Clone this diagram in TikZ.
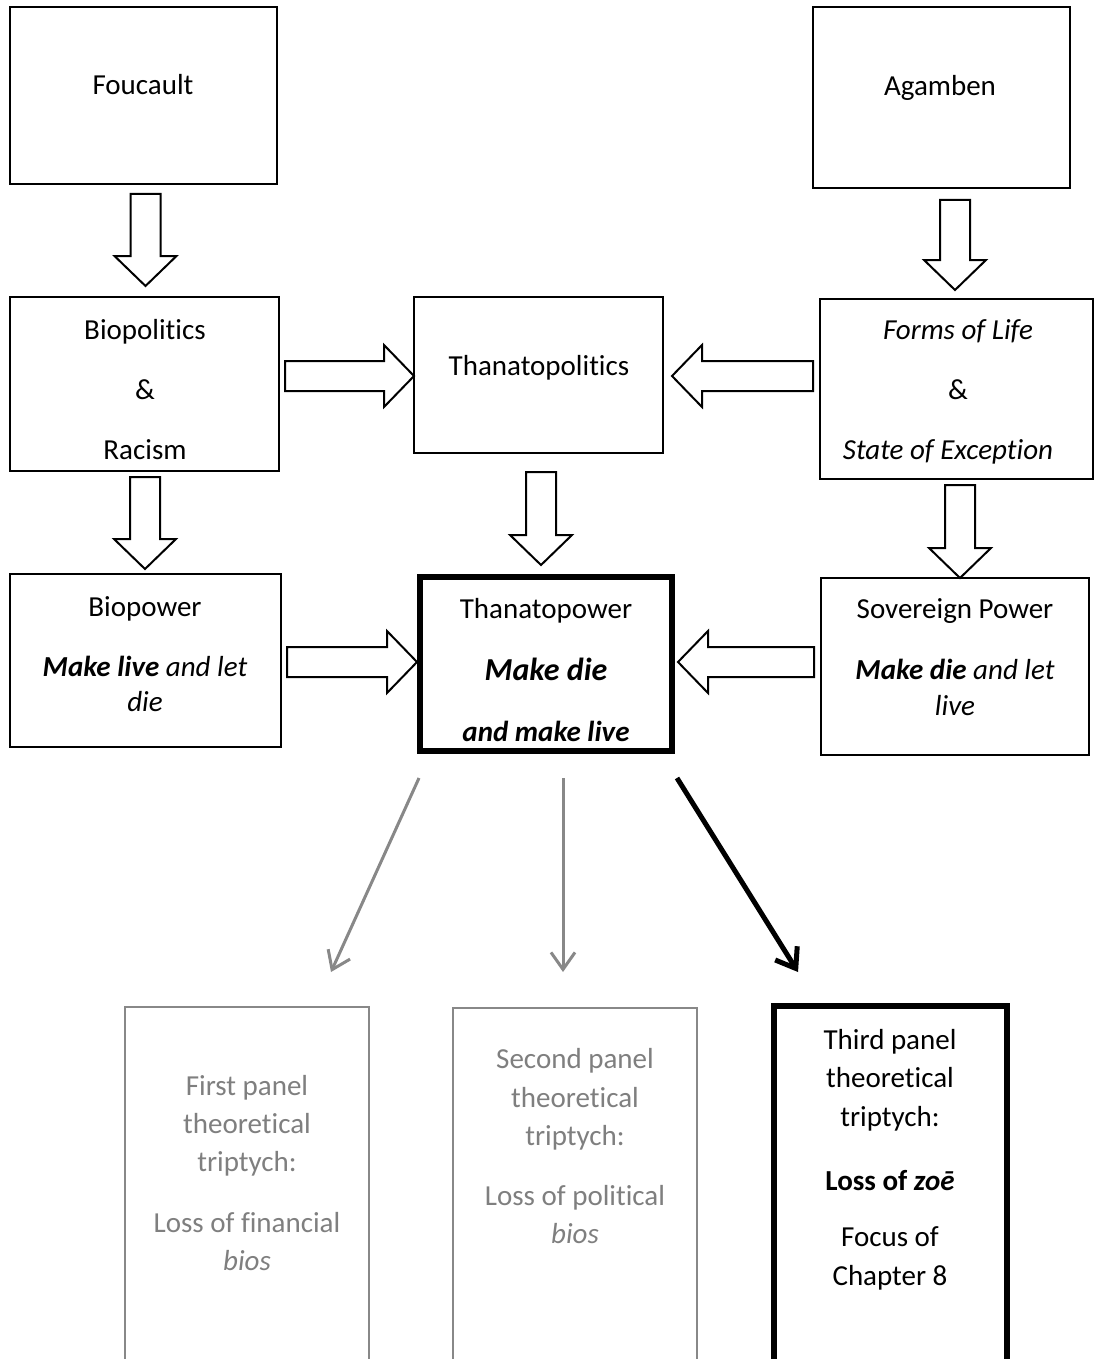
\documentclass[tikz,border=0pt]{standalone}
\usepackage{fontspec}
\setmainfont{Carlito}[Ligatures=NoCommon]
\usetikzlibrary{calc,arrows.meta}

\definecolor{gline}{RGB}{136,136,136}
\definecolor{gtext}{RGB}{127,127,127}

% hollow block arrow from tail coordinate #1 to tip coordinate #2
\newcommand\blockarr[2]{%
  \draw[blockarrow] let \p1=($(#2)-(#1)$), \n1={atan2(\y1,\x1)}, \n2={veclen(\x1,\y1)} in
    [shift={(#1)}, rotate=\n1]
    (0pt,-15pt) -- (\n2-30pt,-15pt) -- (\n2-30pt,-31pt) -- (\n2,0pt)
    -- (\n2-30pt,31pt) -- (\n2-30pt,15pt) -- (0pt,15pt) -- cycle;}

\tikzset{
  box/.style={draw=black, line width=2pt, fill=white, inner sep=0pt},
  thickbox/.style={draw=black, line width=5.5pt, fill=white, inner sep=0pt},
  greybox/.style={draw=gline, line width=2.5pt, fill=white, inner sep=0pt},
  blockarrow/.style={draw=black, line width=2pt, fill=white, line join=miter},
  txt/.style={anchor=base, inner sep=0pt, font=\fontsize{29}{35}\selectfont},
  gtxt/.style={txt, text=gtext},
  greyarrow/.style={draw=gline, line width=3pt, -{Straight Barb[length=17pt,width=24pt,line width=3pt]}},
  blackarrow/.style={draw=black, line width=5pt, -{Straight Barb[length=18pt,width=26pt,line width=5pt]}},
}

\begin{document}
\begin{tikzpicture}[x=1pt,y=-1pt]
\useasboundingbox (0,0) rectangle (1096,1359);
\clip (0,0) rectangle (1096,1359);
\fill[white] (0,0) rectangle (1096,1359);

% ---- top row
\node[box, minimum width=267pt, minimum height=177pt] (fou) at (143.5,95.5) {};
\node[box, minimum width=257pt, minimum height=181pt] (aga) at (941.5,97.5) {};
\node[txt] (foutxt) at (143,95) {Foucault};
\node[txt] (agatxt) at (940,96) {Agamben};

% ---- middle row
\node[box, minimum width=269pt, minimum height=174pt] (bip) at (144.5,384) {};
\node[box, minimum width=249pt, minimum height=156pt] (thp) at (538.5,375) {};
\node[box, minimum width=273pt, minimum height=180pt] (fol) at (956.5,388.5) {};
\node[txt] at (145,339) {Biopolitics};
\node[txt] at (145,399) {\&};
\node[txt] at (145,459) {Racism};
\node[txt] at (539,375) {Thanatopolitics};
\node[txt] at (958,339) {\textit{Forms of Life}};
\node[txt] at (958,399) {\&};
\node[txt] at (948,459) {\textit{State of Exception}};

% ---- power row
\node[box, minimum width=271pt, minimum height=173pt] (bpw) at (145.5,660.5) {};
\node[thickbox, minimum width=252pt, minimum height=174pt] (tpw) at (546,664) {};
\node[box, minimum width=268pt, minimum height=177pt] (sov) at (955,666.5) {};
\node[txt] at (145,616) {Biopower};
\node[txt] at (145,676) {\textbf{\textit{Make live}} \textit{and let}};
\node[txt] at (145,711) {\textit{die}};
\node[txt] at (546,618) {Thanatopower};
\node[txt, font=\fontsize{32}{38}\selectfont] at (546,680) {\textbf{\textit{Make die}}};
\node[txt] at (546,741) {\textbf{\textit{and make live}}};
\node[txt] at (955,618) {Sovereign Power};
\node[txt] at (955,679) {\textbf{\textit{Make die}} \textit{and let}};
\node[txt] at (955,715) {\textit{live}};

% ---- hollow block arrows
\coordinate (a1s) at (145.5,194);  \coordinate (a1t) at (145.5,286);
\coordinate (a2s) at (955,200);    \coordinate (a2t) at (955,290);
\coordinate (a3s) at (285,376);    \coordinate (a3t) at (414,376);
\coordinate (a4s) at (813,376);    \coordinate (a4t) at (672,376);
\coordinate (a5s) at (145,477);    \coordinate (a5t) at (145,569);
\coordinate (a6s) at (541,472);    \coordinate (a6t) at (541,565);
\coordinate (a7s) at (960,485);    \coordinate (a7t) at (960,578);
\coordinate (a8s) at (287,662);    \coordinate (a8t) at (417,662);
\coordinate (a9s) at (814,662);    \coordinate (a9t) at (678,662);
\blockarr{a1s}{a1t}
\blockarr{a2s}{a2t}
\blockarr{a3s}{a3t}
\blockarr{a4s}{a4t}
\blockarr{a5s}{a5t}
\blockarr{a6s}{a6t}
\blockarr{a7s}{a7t}
\blockarr{a8s}{a8t}
\blockarr{a9s}{a9t}

% ---- triptych panels
\node[greybox, minimum width=244pt, minimum height=400pt] (p1) at (247,1207) {};
\node[greybox, minimum width=244pt, minimum height=400pt] (p2) at (575,1208) {};
\node[thickbox, minimum width=233pt, minimum height=400pt] (p3) at (890.5,1206) {};

\node[gtxt] at (247,1095) {First panel};
\node[gtxt] at (247,1133) {theoretical};
\node[gtxt] at (247,1171) {triptych:};
\node[gtxt] at (247,1232) {Loss of financial};
\node[gtxt] at (247,1270) {\textit{bios}};

\node[gtxt] at (575,1068) {Second panel};
\node[gtxt] at (575,1107) {theoretical};
\node[gtxt] at (575,1145) {triptych:};
\node[gtxt] at (575,1205) {Loss of political};
\node[gtxt] at (575,1243) {\textit{bios}};

\node[txt] at (890,1049) {Third panel};
\node[txt] at (890,1087) {theoretical};
\node[txt] at (890,1126) {triptych:};
\node[txt] at (890,1190) {\textbf{Loss of \textit{zoē}}};
\node[txt] at (890,1246) {Focus of};
\node[txt] at (890,1285) {Chapter 8};

% ---- thin arrows from Thanatopower to the panels
\coordinate (l1s) at (419,778);  \coordinate (l1t) at (331,972);
\coordinate (l2s) at (563,778);  \coordinate (l2t) at (563,972);
\coordinate (l3s) at (677,778);  \coordinate (l3t) at (798,972);
\draw[greyarrow] (l1s) -- (l1t);
\draw[greyarrow] (l2s) -- (l2t);
\draw[blackarrow] (l3s) -- (l3t);
\end{tikzpicture}
\end{document}
